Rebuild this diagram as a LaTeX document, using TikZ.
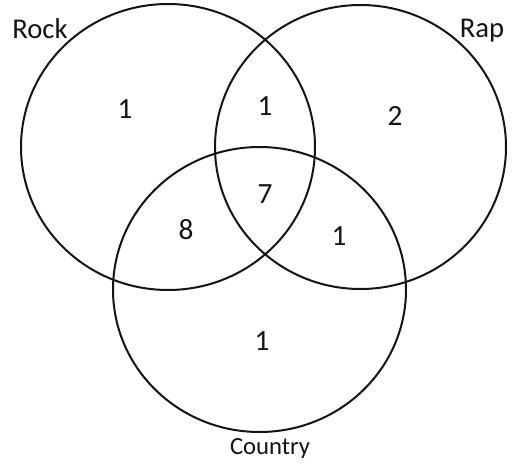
\documentclass[tikz,border=0pt]{standalone}
\usepackage{fontspec}
\setmainfont{Carlito}
\definecolor{Ink}{RGB}{20,20,20}

\begin{document}
\begin{tikzpicture}[x=0.75pt,y=-0.75pt,line cap=round,line join=round,
  set/.style={draw=Ink,line width=1.5pt},
  count/.style={text=Ink,inner sep=0pt,font=\fontsize{22}{24}\selectfont},
  setname/.style={text=Ink,inner sep=0pt,font=\fontsize{21.5}{23}\selectfont},
  smallname/.style={text=Ink,inner sep=0pt,font=\fontsize{18.5}{20}\selectfont}]
\path[use as bounding box,fill=white] (0,0) rectangle (518,465);
% the three sets
\draw[set] (168.0,147.0) ellipse[x radius=147.0,y radius=143.0];
\draw[set] (360.5,147.0) ellipse[x radius=145.5,y radius=142.0];
\draw[set] (259.5,289.5) ellipse[x radius=146.5,y radius=142.5];
% set names
\node[setname] (rock) at (40.0,29.0) {Rock};
\node[setname] (rap) at (482.0,30.5) {Rap};
\node[smallname] (country) at (270.0,448.5) {Country};
% counts in each region
\node[count] (rockonly) at (125.0,109.0) {1};
\node[count] (rockrap) at (265.0,106.0) {1};
\node[count] (raponly) at (395.0,116.0) {2};
\node[count] (all) at (265.0,194.0) {7};
\node[count] (rockcountry) at (186.0,230.0) {8};
\node[count] (rapcountry) at (339.0,236.0) {1};
\node[count] (countryonly) at (262.0,341.0) {1};
\end{tikzpicture}
\end{document}
